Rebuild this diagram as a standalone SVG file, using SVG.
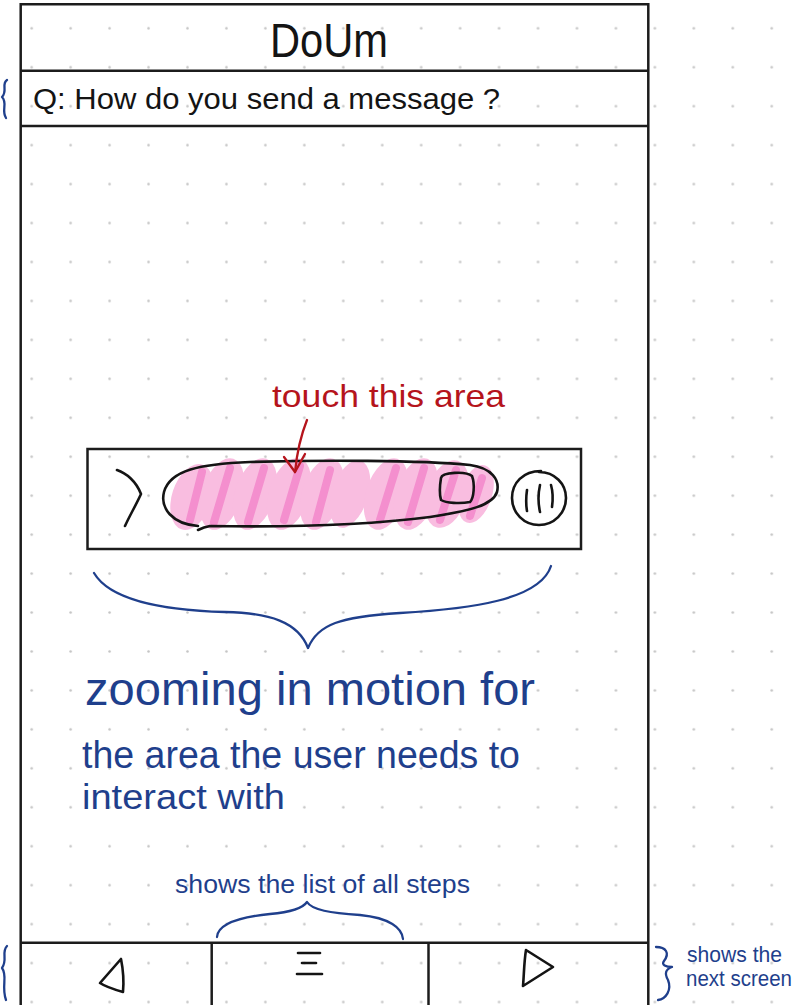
<svg xmlns="http://www.w3.org/2000/svg" width="809" height="1005" viewBox="0 0 809 1005">
  <defs>
    <pattern id="dots" x="12.2" y="8.8" width="38.95" height="38.95" patternUnits="userSpaceOnUse">
      <circle cx="19.5" cy="19.5" r="1.3" fill="#c4c4c4"/>
    </pattern>
    <style>
      .frame { fill: none; stroke: #1c1c1c; stroke-width: 2.5; }
      .ink { fill: none; stroke: #141414; stroke-width: 2.6; stroke-linecap: round; stroke-linejoin: round; }
      .blue { fill: none; stroke: #1f3f8c; stroke-width: 2.3; stroke-linecap: round; stroke-linejoin: round; }
      .red { fill: none; stroke: #b5141c; stroke-width: 2.3; stroke-linecap: round; stroke-linejoin: round; }
      .hand { font-family: "Liberation Sans", "DejaVu Sans", sans-serif; }
      .tblack { fill: #141414; }
      .tblue { fill: #1f3f8c; }
      .tred { fill: #b5141c; }
      .pinkblob { fill: #f9bde0; }
      .pinkstripe { fill: none; stroke: #f283c9; stroke-width: 8; stroke-linecap: round; opacity: 0.8; }
    </style>
  </defs>

  <rect x="0" y="0" width="809" height="1005" fill="#ffffff"/>
  <rect x="0" y="0" width="809" height="1005" fill="url(#dots)"/>

  <g id="frame">
    <path class="frame" d="M20.7,1010 L20.7,4.3 L648.3,4.3 L648.3,1010"/>
  </g>

  <g id="header">
    <line class="frame" x1="20.7" y1="70.7" x2="648.3" y2="70.7"/>
    <text class="hand tblack" x="270" y="57" font-size="48" textLength="118" lengthAdjust="spacingAndGlyphs">DoUm</text>
  </g>

  <g id="question">
    <line class="frame" x1="20.7" y1="126" x2="648.3" y2="126"/>
    <text class="hand tblack" x="33" y="109" font-size="29" textLength="467" lengthAdjust="spacingAndGlyphs">Q: How do you send a message ?</text>
  </g>

  <g id="touch-label">
    <text class="hand tred" x="272" y="407" font-size="32" textLength="233" lengthAdjust="spacingAndGlyphs">touch this area</text>
  </g>

  <g id="input-bar">
    <rect class="frame" x="87.5" y="449" width="493.5" height="100"/>
    <g id="highlight">
      <ellipse class="pinkblob" cx="192" cy="497" rx="20" ry="34" transform="rotate(18 192 497)"/>
      <ellipse class="pinkblob" cx="222" cy="494" rx="20" ry="37" transform="rotate(18 222 494)"/>
      <ellipse class="pinkblob" cx="255" cy="494" rx="20" ry="37" transform="rotate(18 255 494)"/>
      <ellipse class="pinkblob" cx="289" cy="494" rx="20" ry="37" transform="rotate(18 289 494)"/>
      <ellipse class="pinkblob" cx="322" cy="494" rx="20" ry="37" transform="rotate(18 322 494)"/>
      <ellipse class="pinkblob" cx="350" cy="494" rx="18" ry="35" transform="rotate(18 350 494)"/>
      <ellipse class="pinkblob" cx="386" cy="494" rx="20" ry="37" transform="rotate(18 386 494)"/>
      <ellipse class="pinkblob" cx="416" cy="494" rx="20" ry="37" transform="rotate(18 416 494)"/>
      <ellipse class="pinkblob" cx="447" cy="494" rx="20" ry="35" transform="rotate(18 447 494)"/>
      <ellipse class="pinkblob" cx="476" cy="494" rx="16" ry="30" transform="rotate(18 476 494)"/>
      <path class="pinkstripe" d="M190,520 L202,472"/>
      <path class="pinkstripe" d="M214,522 L230,468"/>
      <path class="pinkstripe" d="M248,522 L264,468"/>
      <path class="pinkstripe" d="M284,520 L300,466"/>
      <path class="pinkstripe" d="M316,522 L330,470"/>
      <path class="pinkstripe" d="M380,520 L396,468"/>
      <path class="pinkstripe" d="M408,522 L424,468"/>
      <path class="pinkstripe" d="M440,520 L456,470"/>
      <path class="pinkstripe" d="M470,516 L482,478"/>
    </g>
    <path class="ink" d="M117,470 C126,473 136,481 141,494 C136,505 130,515 125,526"/>
    <path class="ink" d="M198,526 C172,524 160,508 164,492 C170,470 200,464 250,462 C320,460 420,460 470,465 C492,468 500,480 497,492 C493,505 470,511 430,517 C360,526 270,527 210,526 C204,527 200,529 198,530"/>
    <path class="ink" d="M441,478 C442,472 466,471 472,476 C475,484 474,498 470,502 C460,504 446,503 441,500 C439,493 440,484 441,478 Z"/>
    <path class="ink" d="M539,472 C555,472 566,484 566,498 C566,513 554,525 539,525 C524,525 512,513 512,498 C512,483 523,471 541,471"/>
    <path class="ink" d="M527,490 C526,497 526,505 527,511"/>
    <path class="ink" d="M540,485 C538,494 538,503 540,512"/>
    <path class="ink" d="M551,485 C553,492 553,500 552,507"/>
  </g>

  <g id="connectors">
    <path class="red" d="M307,420 C301,435 297,452 295,472"/>
    <path class="red" d="M284,457 L295,472 L305,454"/>
  </g>

  <g id="zoom-note">
    <path class="blue" d="M94,573 C110,600 160,610 225,612 C270,613 298,622 308,648 C318,624 340,617 400,613 C470,609 540,600 551,566"/>
    <text class="hand tblue" x="85" y="705" font-size="46" textLength="450" lengthAdjust="spacingAndGlyphs">zooming in motion for</text>
    <text class="hand tblue" x="82" y="768" font-size="38" textLength="438" lengthAdjust="spacingAndGlyphs">the area the user needs to</text>
    <text class="hand tblue" x="82" y="809" font-size="35" textLength="203" lengthAdjust="spacingAndGlyphs">interact with</text>
  </g>

  <g id="steps-note">
    <text class="hand tblue" x="175" y="893" font-size="26" textLength="295" lengthAdjust="spacingAndGlyphs">shows the list of all steps</text>
    <path class="blue" d="M217,937 C218,924 240,917 270,914 C292,912 303,908 307,902 C312,910 330,913 360,915 C390,918 402,928 403,939"/>
  </g>

  <g id="nav-bar">
    <line class="frame" x1="20.7" y1="942.7" x2="648.3" y2="942.7"/>
    <line class="frame" x1="211.7" y1="942.7" x2="211.7" y2="1010"/>
    <line class="frame" x1="428.5" y1="942.7" x2="428.5" y2="1010"/>
  </g>

  <g id="nav-back">
    <path class="ink" d="M121,959 L100,983 C106,987 116,990 123,992 C124,981 123,969 121,959"/>
  </g>

  <g id="nav-list">
    <path class="ink" d="M298,953 L320,953"/>
    <path class="ink" d="M302,963 L316,963"/>
    <path class="ink" d="M297,974 L322,974"/>
  </g>

  <g id="nav-next">
    <path class="ink" d="M526,950 C524,962 524,975 523,986 L553,967 L526,950"/>
  </g>

  <g id="next-note">
    <path class="blue" d="M656,947 C666,947 670,953 664,961 C661,965 666,967 672,967 C666,969 664,973 668,980 C672,990 666,999 658,1000"/>
    <text class="hand tblue" x="687" y="962" font-size="22" textLength="95" lengthAdjust="spacingAndGlyphs">shows the</text>
    <text class="hand tblue" x="686" y="986" font-size="22" textLength="106" lengthAdjust="spacingAndGlyphs">next screen</text>
  </g>

  <g id="edge-marks">
    <path class="blue" d="M7,80 C1,84 8,91 2,97 C8,103 1,110 6,118"/>
    <path class="blue" d="M7,946 C1,952 8,960 2,968 C8,976 1,986 6,1000"/>
  </g>
</svg>
